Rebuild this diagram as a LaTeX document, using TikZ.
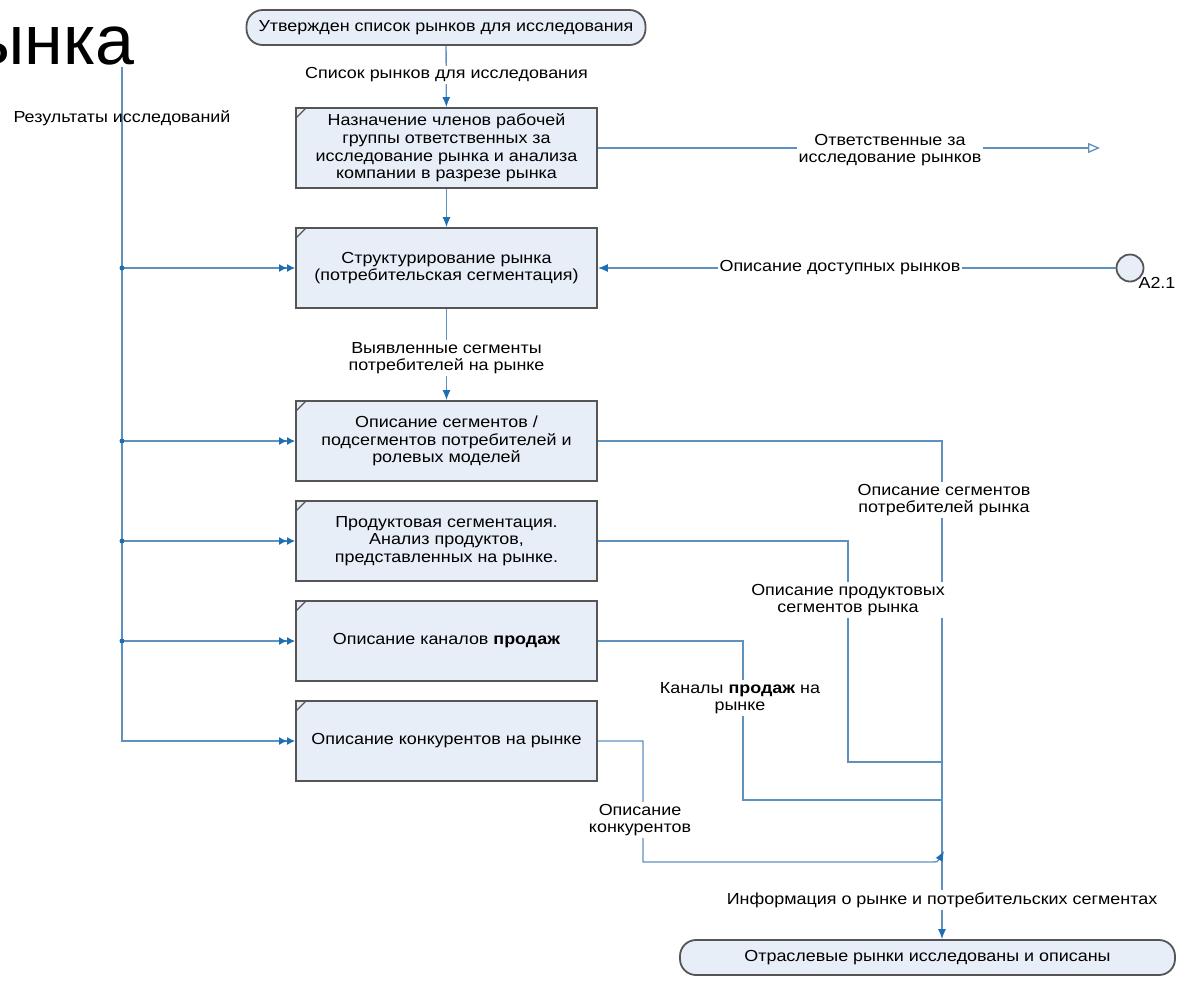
\documentclass[tikz,border=0pt]{standalone}
\usepackage{fontspec}
\setmainfont[FakeStretch=1.12]{Liberation Sans}
\newfontfamily\titlefont{Liberation Sans}
\usetikzlibrary{arrows.meta, positioning, calc}

\definecolor{boxfill}{RGB}{231,238,248}
\definecolor{boxline}{RGB}{85,85,85}
\definecolor{linecol}{RGB}{95,145,190}
\definecolor{arrcol}{RGB}{30,110,180}

\begin{document}
\begin{tikzpicture}[
        x=0.5pt, y=-0.5pt,
        func/.style={rectangle, draw=boxline, fill=boxfill, line width=0.9pt, minimum width=150.5pt, minimum height=40pt, inner sep=2pt, align=center, font=\fontsize{8}{8.8}\selectfont,
            path picture={\draw[boxline, line width=0.6pt] ([yshift=-5pt]path picture bounding box.north west) -- ([xshift=5pt]path picture bounding box.north west);}},
        term/.style={rectangle, rounded corners=8pt, draw=boxline, fill=boxfill, line width=0.9pt, minimum height=17.5pt, inner sep=2pt, font=\fontsize{8}{8.8}\selectfont},
        lbl/.style={fill=white, inner sep=1pt, align=center, font=\fontsize{8}{8.8}\selectfont},
        link/.style={draw=linecol, line width=0.65pt},
        flow/.style={link, -{Latex[length=5pt, width=4pt, color=arrcol]}},
        dflow/.style={link, -{Latex[length=4pt, width=4pt, color=arrcol] Latex[length=4pt, width=4pt, color=arrcol]}},
        outflow/.style={link, -{Triangle[open, length=6pt, width=5pt]}},
        junc/.style={circle, fill=arrcol, inner sep=0pt, minimum size=2.5pt}
    ]
        \useasboundingbox (0,0) rectangle (1190,981);

        % TITLE (cut off)
        \node[anchor=base east, inner sep=0pt, font=\titlefont\fontsize{35}{35}\selectfont] (title) at (135,64) {ынка};

        % EVENTS
        \node[term, minimum width=199.5pt] (start_ev) at (446,27.5) {Утвержден список рынков для исследования};
        \node[term, minimum width=247.5pt] (end_ev) at (927.5,957.5) {Отраслевые рынки исследованы и описаны};

        % FUNCTIONS
        \node[func] (assign_fn) at (446.5,148) {Назначение членов рабочей\\группы ответственных за\\исследование рынка и анализа\\компании в разрезе рынка};
        \node[func] (struct_fn) at (446.5,268) {Структурирование рынка\\(потребительская сегментация)};
        \node[func] (segm_fn) at (446.5,441) {Описание сегментов /\\подсегментов потребителей и\\ролевых моделей};
        \node[func] (prod_fn) at (446.5,541) {Продуктовая сегментация.\\Анализ продуктов,\\представленных на рынке.};
        \node[func] (chan_fn) at (446.5,641) {Описание каналов \textbf{продаж}};
        \node[func] (comp_fn) at (446.5,741) {Описание конкурентов на рынке};

        % A2.1
        \node[circle, draw=boxline, fill=boxfill, line width=0.9pt, minimum size=13.5pt, inner sep=0pt] (a21) at (1130,268) {};
        \node[inner sep=0pt, font=\fontsize{8}{8.8}\selectfont] (a21_lbl) at (1157,283) {A2.1};

        % COORDINATES
        \coordinate (bus_top) at (122,67);
        \coordinate (resp_end) at (1100,148);
        \coordinate (main_x) at (942,0);
        \coordinate (prod_turn) at (848,762);
        \coordinate (chan_turn) at (743,800);
        \coordinate (comp_turn) at (643,862);
        \coordinate (hook) at (926,862);
        \coordinate (hook_end) at (944,851);

        % FLOWS - left bus
        \draw[dflow] (bus_top) |- (comp_fn.west);
        \foreach \fn in {struct_fn, segm_fn, prod_fn, chan_fn} {
            \draw[dflow] (bus_top |- \fn.west) -- (\fn.west);
            \node[junc] at (bus_top |- \fn.west) {};
        }

        % FLOWS - main column
        \draw[flow] (start_ev) -- (assign_fn);
        \draw[flow] (assign_fn) -- (struct_fn);
        \draw[flow] (struct_fn) -- (segm_fn);
        \draw[outflow] (assign_fn.east) -- (resp_end);
        \draw[flow] (a21) -- (struct_fn.east);

        % FLOWS - outputs
        \draw[flow] (segm_fn.east) -| (main_x |- end_ev.north);
        \draw[link] (prod_fn.east) -| (prod_turn) -- (prod_turn -| main_x);
        \draw[link] (chan_fn.east) -| (chan_turn) -- (chan_turn -| main_x);
        \draw[flow] (comp_fn.east) -| (comp_turn) -- (hook) .. controls (938,862) .. (hook_end);

        % LABELS
        \node[inner sep=1pt, font=\fontsize{8}{8.8}\selectfont] (res_lbl) at (122,118) {Результаты исследований};
        \node[lbl] (list_lbl) at (446.5,75) {Список рынков для исследования};
        \node[lbl] (resp_lbl) at (890,150) {Ответственные за\\исследование рынков};
        \node[lbl] (avail_lbl) at (840,268) {Описание доступных рынков};
        \node[lbl] (found_lbl) at (446.5,358) {Выявленные сегменты\\потребителей на рынке};
        \node[lbl] (segm_lbl) at (944,500) {Описание сегментов\\потребителей рынка};
        \node[lbl] (prod_lbl) at (848,600) {Описание продуктовых\\сегментов рынка};
        \node[lbl] (chan_lbl) at (740,698) {Каналы \textbf{продаж} на\\рынке};
        \node[lbl] (comp_lbl) at (640,820) {Описание\\конкурентов};
        \node[lbl] (info_lbl) at (942,900) {Информация о рынке и потребительских сегментах};

\end{tikzpicture}
\end{document}
